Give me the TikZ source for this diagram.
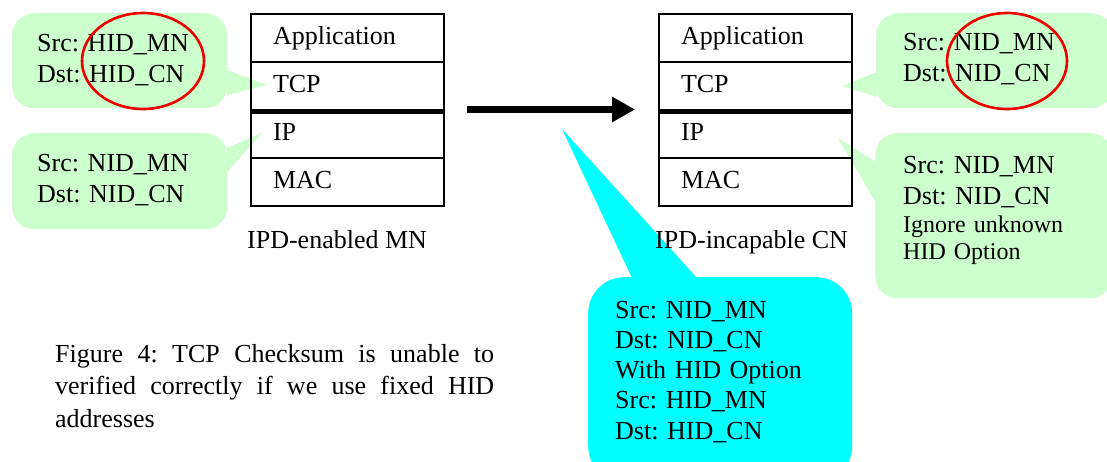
\documentclass[tikz,border=0pt]{standalone}
\usepackage{fontspec}
\setmainfont{Liberation Serif}
\usetikzlibrary{arrows.meta,shapes.geometric}
\definecolor{bubgreen}{HTML}{CCFFCC}
\definecolor{bubcyan}{HTML}{00FFFF}
\definecolor{ringred}{HTML}{EE0000}
\frenchspacing
\begin{document}
\begin{tikzpicture}[x=1pt,y=-1pt,
  main/.style={font=\fontsize{26}{31}\selectfont\frenchspacing},
  bubble/.style={fill=bubgreen, draw=none, rounded corners=22pt, inner sep=0pt, anchor=north west},
  cbubble/.style={fill=bubcyan, draw=none, rounded corners=36pt, inner sep=0pt, anchor=north west},
  btext/.style={main, text width=220pt, align=left, inner sep=0pt, anchor=base west},
  layer/.style={draw, line width=2pt, main, text width=149pt, inner xsep=22pt, inner ysep=0pt,
    minimum height=48pt, text height=18pt, text depth=6pt, align=left, anchor=north west},
  sep/.style={line width=5pt},
  ring/.style={draw=ringred, line width=2.6pt, ellipse, inner sep=0pt},
  label/.style={main, inner sep=0pt, anchor=base west},
  bigarrow/.style={line width=7pt, -{Triangle[length=23pt,width=24pt]}}]
\useasboundingbox (0,0) rectangle (1107,461);

% ---- bubbles ----
\node[bubble, minimum width=215pt, minimum height=95pt] (bl1) at (12,13) {};
\node[bubble, minimum width=215pt, minimum height=96pt] (bl2) at (12,133) {};
\node[bubble, minimum width=237pt, minimum height=95pt] (br1) at (876,13) {};
\node[bubble, minimum width=237pt, minimum height=165pt] (br2) at (875,133) {};
\node[cbubble, minimum width=264pt, minimum height=205pt] (bc) at (588,277) {};

% pointers
\coordinate (t1) at (267,85);
\coordinate (t2) at (263,132);
\coordinate (t3) at (842,86);
\coordinate (t4) at (838,138);
\coordinate (t5) at (562,129);
\fill[bubgreen] (227,70) -- (t1) -- (227,95) -- cycle;
\fill[bubgreen] (227,148) -- (t2) -- (227,172) -- cycle;
\fill[bubgreen] (877,72) -- (t3) -- (877,97) -- cycle;
\fill[bubgreen] (876,162) -- (t4) -- (876,203) -- cycle;
\fill[bubcyan] (632,278) -- (t5) -- (697,278) -- cycle;

% ---- stacks ----
\node[layer] (la) at (250,13) {Application};
\node[layer] (lt) at (250,61) {TCP};
\node[layer] (li) at (250,109) {IP};
\node[layer] (lm) at (250,157) {MAC};
\draw[sep] (lt.south west) -- (lt.south east);

\node[layer] (ra) at (658,13) {Application};
\node[layer] (rt) at (658,61) {TCP};
\node[layer] (ri) at (658,109) {IP};
\node[layer] (rm) at (658,157) {MAC};
\draw[sep] (rt.south west) -- (rt.south east);

\node[label] (lname) at (247,248) {IPD-enabled MN};
\node[label] (rname) at (655,248) {IPD-incapable CN};

% ---- arrow ----
\coordinate (as) at (467,109.5);
\coordinate (ae) at (635,109.5);
\draw[bigarrow] (as) -- (ae);

% ---- bubble texts ----
\node[btext] (x1) at (37,51) {Src: HID\_MN\\Dst: HID\_CN};
\node[btext] (x2) at (37,171) {Src: NID\_MN\\Dst: NID\_CN};
\node[btext] (x3) at (903,50) {Src: NID\_MN\\Dst: NID\_CN};
\node[btext] (x4) at (903,173) {Src: NID\_MN\\Dst: NID\_CN};
\node[btext, font=\fontsize{24}{27}\selectfont] (x5) at (903,232) {Ignore unknown\\HID Option};
\node[btext, font=\fontsize{26}{30.25}\selectfont] (x6) at (615,318)
  {Src: NID\_MN\\Dst: NID\_CN\\With HID Option\\Src: HID\_MN\\Dst: HID\_CN};

% ---- caption ----
\node[font=\fontsize{26}{32.5}\selectfont, text width=439pt, align=justify, inner sep=0pt, anchor=base west] (cap) at (55,362)
  {Figure 4: TCP Checksum is unable to\linebreak \mbox{verified} correctly if we use fixed HID\linebreak \mbox{addresses}};

% ---- red rings ----
\node[ring, minimum width=122pt, minimum height=96pt] (r1) at (143,61) {};
\node[ring, minimum width=120pt, minimum height=96pt] (r2) at (1007,61) {};
\end{tikzpicture}
\end{document}
